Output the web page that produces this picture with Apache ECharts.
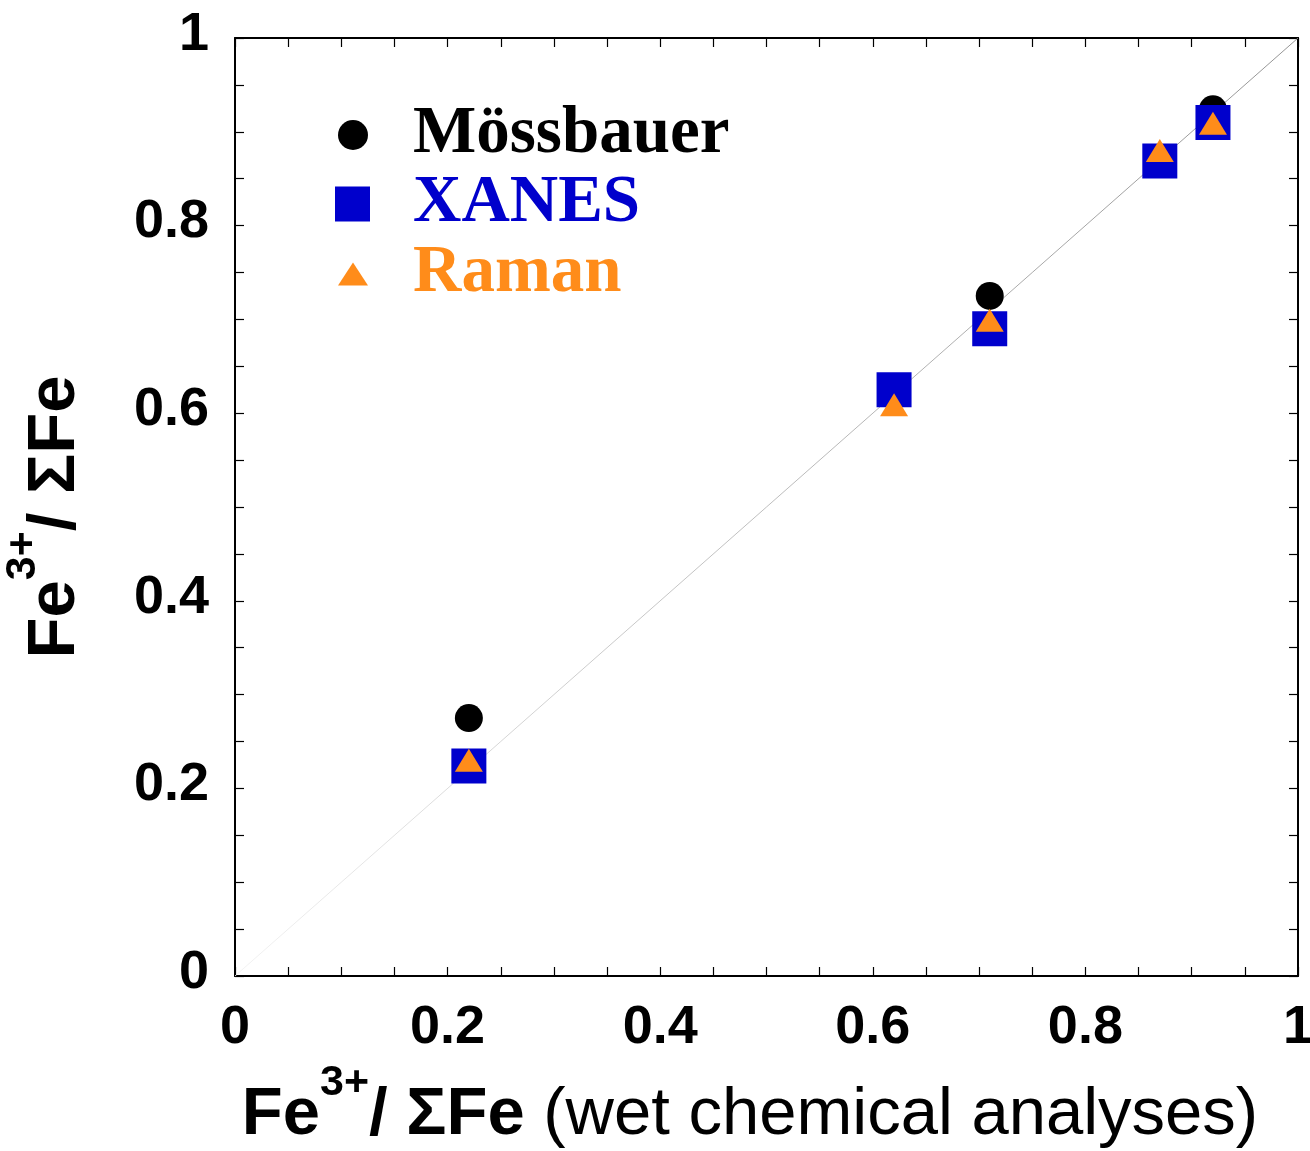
<!DOCTYPE html>
<html>
<head>
<meta charset="utf-8">
<title>Fe3+/ΣFe comparison</title>
<script src="https://cdn.jsdelivr.net/npm/echarts@6/dist/echarts.min.js"></script>
<style>
  html, body { margin: 0; padding: 0; background: #ffffff; }
  #chart { width: 1310px; height: 1151px; }
</style>
</head>
<body>
<div id="chart"></div>
<script>
// Fe3+/ΣFe measured by each method against wet chemical analyses
const mossbauerX = [0.22, 0.71, 0.92];
const mossbauerY = [0.275, 0.725, 0.924];

const xanesX = [0.22, 0.62, 0.71, 0.87, 0.92];
const xanesY = [0.224, 0.625, 0.690, 0.869, 0.910];

const ramanX = [0.22, 0.62, 0.71, 0.87, 0.92];
const ramanY = [0.230, 0.609, 0.699, 0.880, 0.909];

// 1:1 reference line
const oneToOne = [[0, 0], [1, 1]];

const seriesNames = ['Mössbauer', 'XANES', 'Raman'];
const colBlack = '#000000';
const colBlue = '#0000cc';
const colOrange = '#ff8c1a';

const pair = (xs, ys) => xs.map((x, i) => [x, ys[i]]);

const sans = '"Liberation Sans", Arial, sans-serif';
const serif = '"Liberation Serif", "Times New Roman", serif';

const titleRich = {
  b: { fontFamily: sans, fontWeight: 'bold', fontSize: 67, lineHeight: 108, color: '#000' },
  r: { fontFamily: sans, fontWeight: 'normal', fontSize: 67, lineHeight: 108, color: '#000' },
  sup: { fontFamily: sans, fontWeight: 'bold', fontSize: 43, lineHeight: 43, verticalAlign: 'top', color: '#000' }
};

const tickCommon = {
  axisLine: { show: true, onZero: false, lineStyle: { color: '#000', width: 2 } },
  axisTick: { show: true, inside: true, length: 9, lineStyle: { color: '#000', width: 1.2 } },
  minorTick: { show: true, splitNumber: 4, length: 9, lineStyle: { color: '#000', width: 1.2 } },
  splitLine: { show: false }
};

const labelStyle = { fontFamily: sans, fontWeight: 'bold', fontSize: 54, color: '#000' };
const fmt = v => (v === 0 || v === 1) ? String(v) : v.toFixed(1);

// icon width + 5px built-in gap + left padding puts every label at the same x
const legendText = (color, padLeft) => ({
  fontFamily: serif, fontWeight: 'bold', fontSize: 67, lineHeight: 70,
  color: color, padding: [16, 0, 0, padLeft]
});

const option = {
  backgroundColor: '#ffffff',
  animation: false,
  grid: { left: 235, right: 12, top: 38, bottom: 175, containLabel: false, outerBoundsMode: 'none' },
  xAxis: [
    Object.assign({
      type: 'value', min: 0, max: 1, interval: 0.2, position: 'bottom',
      axisLabel: Object.assign({ margin: 25, formatter: fmt }, labelStyle),
      name: '{b|Fe}{sup|3+}{b|/ ΣFe}{r|\u00a0(wet chemical analyses)}',
      nameLocation: 'middle', nameGap: 86,
      nameTextStyle: { rich: titleRich, padding: [0, 33, 0, 0] }
    }, tickCommon),
    Object.assign({
      type: 'value', min: 0, max: 1, interval: 0.2, position: 'top',
      axisLabel: { show: false }
    }, tickCommon)
  ],
  yAxis: [
    Object.assign({
      type: 'value', min: 0, max: 1, interval: 0.2, position: 'left',
      axisLabel: Object.assign({ margin: 26, formatter: fmt, verticalAlign: 'bottom', lineHeight: 6 }, labelStyle),
      name: '{b|Fe}{sup|3+}{b|/ ΣFe}',
      nameLocation: 'middle', nameRotate: 90, nameGap: 125,
      nameTextStyle: { rich: titleRich, padding: [0, 20, 0, 0] }
    }, tickCommon),
    Object.assign({
      type: 'value', min: 0, max: 1, interval: 0.2, position: 'right',
      axisLabel: { show: false }
    }, tickCommon)
  ],
  legend: [
    {
      data: [{ name: seriesNames[0], icon: 'circle', textStyle: legendText(colBlack, 40) }],
      left: 338, top: 92, padding: 0, itemWidth: 30, itemHeight: 30, itemGap: 0
    },
    {
      data: [{ name: seriesNames[1], icon: 'rect', textStyle: legendText(colBlue, 38) }],
      left: 335, top: 161, padding: 0, itemWidth: 35, itemHeight: 35, itemGap: 0
    },
    {
      data: [{ name: seriesNames[2], icon: 'triangle', textStyle: legendText(colOrange, 40) }],
      left: 338, top: 231, padding: 0, itemWidth: 30, itemHeight: 23, itemGap: 0
    }
  ],
  series: [
    {
      name: '1:1',
      type: 'line',
      data: oneToOne,
      symbol: 'none',
      silent: true,
      z: 1,
      lineStyle: {
        width: 0.9,
        color: new echarts.graphic.LinearGradient(0, 1, 1, 0, [
          { offset: 0, color: '#f2f2f2' },
          { offset: 0.35, color: '#c4c4c4' },
          { offset: 1, color: '#888888' }
        ])
      }
    },
    {
      name: seriesNames[0], type: 'scatter', data: pair(mossbauerX, mossbauerY),
      symbol: 'circle', symbolSize: 28, z: 2,
      itemStyle: { color: colBlack, opacity: 1 }
    },
    {
      name: seriesNames[1], type: 'scatter', data: pair(xanesX, xanesY),
      symbol: 'rect', symbolSize: 35, z: 3,
      itemStyle: { color: colBlue, opacity: 1 }
    },
    {
      name: seriesNames[2], type: 'scatter', data: pair(ramanX, ramanY),
      symbol: 'triangle', symbolSize: [28, 23], z: 4,
      itemStyle: { color: colOrange, opacity: 1 }
    }
  ]
};

const chart = echarts.init(document.getElementById('chart'), null, { renderer: 'canvas' });
chart.setOption(option);
</script>
</body>
</html>
